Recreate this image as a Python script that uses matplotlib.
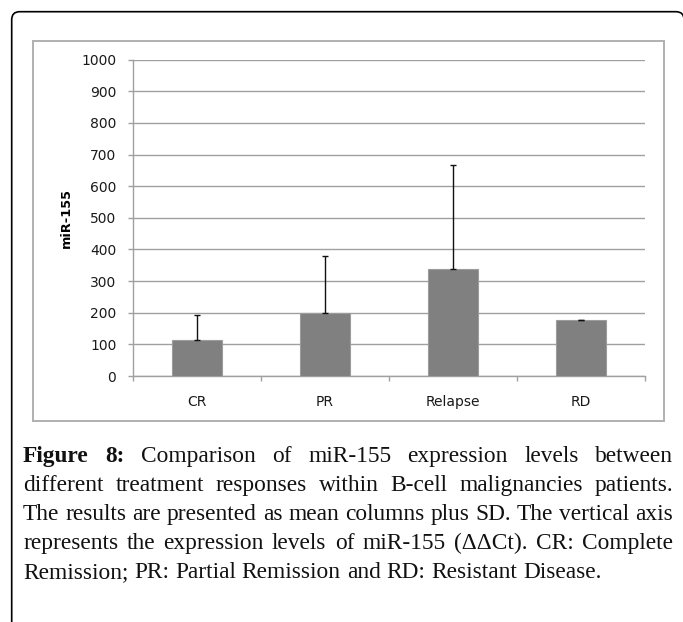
import matplotlib
matplotlib.use('Agg')
import matplotlib.pyplot as plt
import numpy as np
from matplotlib.patches import FancyBboxPatch, Rectangle
from matplotlib.transforms import IdentityTransform

# ---------------- data ----------------
categories = ['CR', 'PR', 'Relapse', 'RD']
means = [114, 199, 339, 176]
sd_upper = [78, 180, 328, 1]
y_ticks = [0, 100, 200, 300, 400, 500, 600, 700, 800, 900, 1000]
y_label = 'miR-155'
caption_lines = [
    [('Figure', True), ('8:', True), ('Comparison', False), ('of', False), ('miR-155', False),
     ('expression', False), ('levels', False), ('between', False)],
    'different treatment responses within B-cell malignancies patients.',
    'The results are presented as mean columns plus SD. The vertical axis',
    'represents the expression levels of miR-155 (\u0394\u0394Ct). CR: Complete',
    'Remission; PR: Partial Remission and RD: Resistant Disease.',
]

W, H, DPI = 683, 622, 100
fig = plt.figure(figsize=(W / DPI, H / DPI), dpi=DPI)
fig.patch.set_facecolor('white')

# outer rounded frame (pixel coordinates)
frame = FancyBboxPatch((11.7, -60), 684.0 - 11.7, (H - 11.7) + 60,
                       boxstyle='round,pad=0,rounding_size=8',
                       transform=IdentityTransform(), fill=False,
                       edgecolor='black', linewidth=1.2)
fig.patches.append(frame)

# inner chart box
box = Rectangle((32.7, H - 420.5), 664 - 32.7, 420.5 - 41, transform=IdentityTransform(),
                fill=False, edgecolor='#b0b0b0', linewidth=1.4)
fig.patches.append(box)

# ---------------- chart ----------------
ax = fig.add_axes([133 / W, 1 - 376 / H, 512 / W, 316.3 / H])
x = np.arange(len(categories))
grey = '#a0a0a0'
ax.bar(x, means, width=0.39, color='#808080', edgecolor='#9c9c9c', linewidth=0.8, zorder=3)
ax.errorbar(x, means, yerr=[np.zeros(len(sd_upper)), sd_upper], fmt='none',
            ecolor='#111111', elinewidth=1.0, capsize=2.5, capthick=1.0, zorder=4)
ax.set_xlim(-0.5, len(categories) - 0.5)
ax.set_ylim(y_ticks[0], y_ticks[-1])
ax.set_yticks(y_ticks)
ax.set_yticklabels([str(t) for t in y_ticks])
ax.yaxis.grid(True, color=grey, linewidth=1.0, zorder=0)
ax.set_axisbelow(True)
for s in ['top', 'right']:
    ax.spines[s].set_visible(False)
for s in ['left', 'bottom']:
    ax.spines[s].set_color(grey)
    ax.spines[s].set_linewidth(1.0)

ax.set_xticks(x)
ax.set_xticklabels(categories)
ax.set_xticks(np.arange(len(categories) + 1) - 0.5, minor=True)
ax.tick_params(axis='x', which='major', length=0, pad=14, labelsize=10, labelcolor='#1a1a1a')
ax.tick_params(axis='x', which='minor', length=3.6, width=1.0, color=grey, direction='out')
ax.tick_params(axis='y', length=3.6, width=1.0, color=grey, direction='out', pad=8.4,
               labelsize=10, labelcolor='#1a1a1a')

ax.set_ylabel(y_label, fontsize=9.3, fontweight='bold', va='center')
ax.yaxis.set_label_coords((66 - 133) / 512, 0.5)

# ---------------- caption (justified) ----------------
serif = ['Liberation Serif', 'DejaVu Serif']
renderer = fig.canvas.get_renderer()


def width_of(word, fs, bold):
    t = fig.text(0, 0, word, fontsize=fs, family=serif, fontweight='bold' if bold else 'normal')
    w = t.get_window_extent(renderer).width
    t.remove()
    return w


def as_words(line):
    if isinstance(line, str):
        return [(w, False) for w in line.split(' ')]
    return line


left, right = 23.0, 673.0
base_fs = 10.0
last_words = as_words(caption_lines[-1])
space10 = 0.25 * base_fs * DPI / 72
nat_last = sum(width_of(w, base_fs, b) for w, b in last_words) + space10 * (len(last_words) - 1)
fs = base_fs * 580.0 / nat_last
space = 0.25 * fs * DPI / 72

baseline0, line_step = 462.0, 29.0
for i, line in enumerate(caption_lines):
    words = as_words(line)
    widths = [width_of(w, fs, b) for w, b in words]
    yb = baseline0 + i * line_step
    if i < len(caption_lines) - 1 and len(words) > 1:
        gap = (right - left - sum(widths)) / (len(words) - 1)
    else:
        gap = space
    xp = left
    for (w, b), wd in zip(words, widths):
        fig.text(xp / W, 1 - yb / H, w, fontsize=fs, family=serif,
                 fontweight='bold' if b else 'normal', ha='left', va='baseline', color='#111111')
        xp += wd + gap

fig.savefig('out.png', dpi=DPI)
